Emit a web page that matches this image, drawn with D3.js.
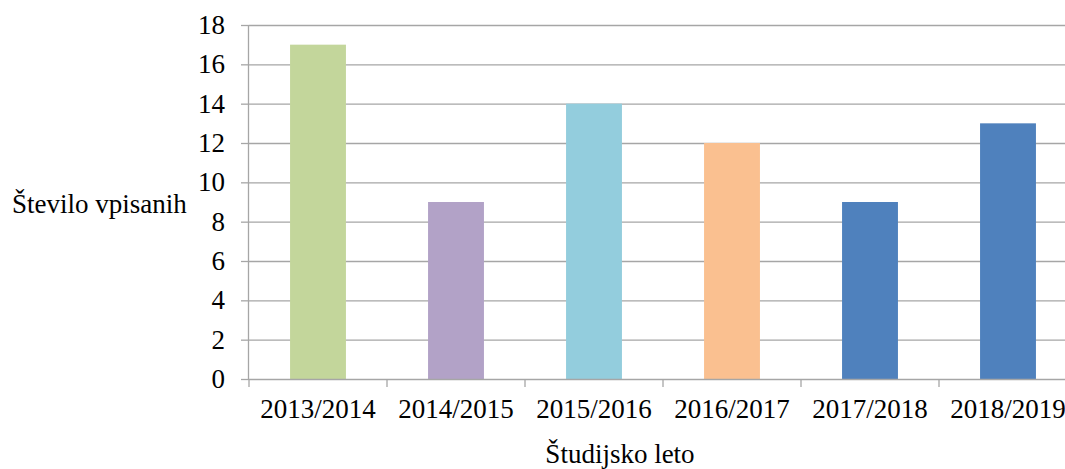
<!DOCTYPE html>
<html><head><meta charset="utf-8">
<script src="https://cdn.jsdelivr.net/npm/d3@7"></script>
<style>body{margin:0;background:#fff}svg{display:block}
text{font-family:"Liberation Serif","Times New Roman",Times,serif !important;}
</style>
</head><body><svg id="c" width="1065" height="469"></svg>
<script>
const categories = ["2013/2014","2014/2015","2015/2016","2016/2017","2017/2018","2018/2019"];
const values = [17, 9, 14, 12, 9, 13];
const colors = ["#C3D69B","#B2A2C7","#93CDDD","#FAC090","#4F81BD","#4F81BD"];
const yTicks = [0,2,4,6,8,10,12,14,16,18];
const yTitle = "Število vpisanih";
const xTitle = "Študijsko leto";

(function(){
const svg = d3.select("#c");
const fs = 27;
const pL = 249, pR = 1077, pT = 25, pB = 379;
const x = d3.scaleBand().domain(categories).range([pL, pR]).paddingInner(0.595).paddingOuter(0.2975);
const xb = d3.scaleBand().domain(categories).range([pL, pR]);
const y = d3.scaleLinear().domain([0,18]).range([pB, pT]);

svg.append("g").selectAll("line").data(yTicks.filter(d=>d>0)).join("line")
  .attr("x1", pL).attr("x2", pR).attr("y1", d=>y(d)+0.5).attr("y2", d=>y(d)+0.5)
  .attr("stroke", "#A6A6A6").attr("stroke-width", 1.3);

svg.append("g").selectAll("rect").data(values).join("rect")
  .attr("x", (d,i)=>x(categories[i])).attr("width", x.bandwidth())
  .attr("y", d=>y(d)).attr("height", d=>pB - y(d))
  .attr("fill", (d,i)=>colors[i]);

const ya = svg.append("g").attr("transform", `translate(${pL},0)`)
  .call(d3.axisLeft(y).tickValues(yTicks).tickSize(8).tickPadding(16));
ya.attr("font-family", null).attr("font-size", null);
ya.select(".domain").attr("stroke", "#A6A6A6").attr("stroke-width", 1.3).attr("d", `M-0.5,${pT}V${pB}`);
ya.selectAll(".tick line").attr("stroke", "#A6A6A6").attr("stroke-width", 1.3);
ya.selectAll("text").style("font-size", fs+"px").attr("fill", "#000");

const boundaries = categories.map(c=>xb(c)).concat([pR]);
const xa = svg.append("g");
xa.append("line").attr("x1", pL).attr("x2", pR).attr("y1", pB+0.5).attr("y2", pB+0.5)
  .attr("stroke", "#A6A6A6").attr("stroke-width", 1.3);
xa.selectAll(".bt").data(boundaries).join("line").attr("class","bt")
  .attr("x1", d=>d).attr("x2", d=>d).attr("y1", pB).attr("y2", pB+8)
  .attr("stroke", "#A6A6A6").attr("stroke-width", 1.3);
xa.selectAll("text").data(categories).join("text")
  .attr("x", d=>xb(d)+xb.bandwidth()/2).attr("y", 418)
  .attr("text-anchor", "middle").style("font-size", fs+"px").attr("fill", "#000")
  .text(d=>d);

svg.append("text").attr("x", 12).attr("y", 213).style("font-size", fs+"px").text(yTitle);
svg.append("text").attr("x", 620).attr("y", 463).attr("text-anchor","middle").style("font-size", fs+"px").text(xTitle);
})();
</script></body></html>
